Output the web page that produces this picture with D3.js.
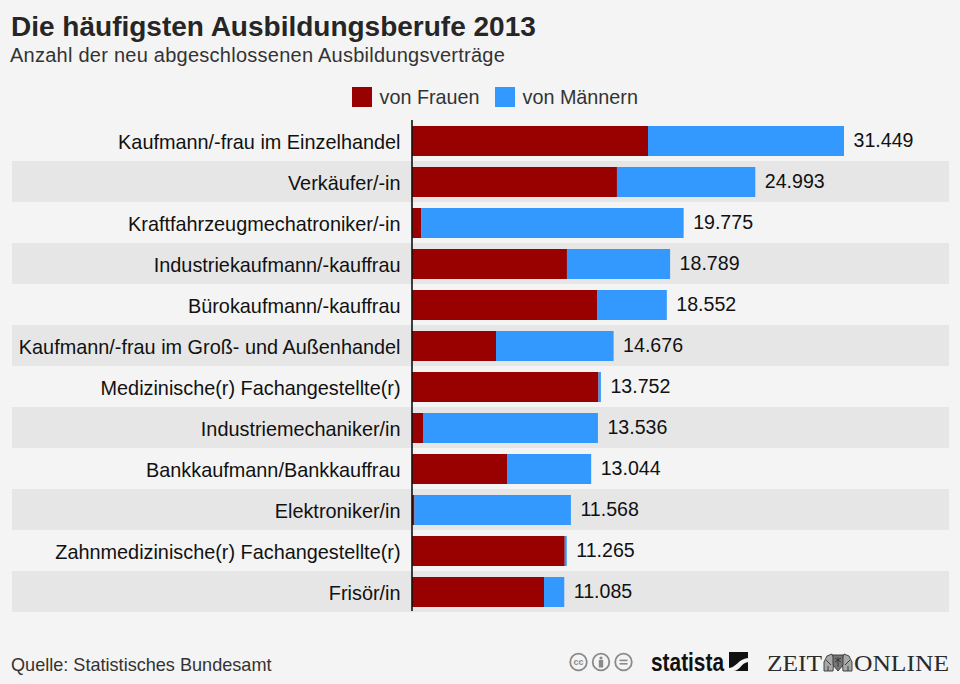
<!DOCTYPE html>
<html>
<head>
<meta charset="utf-8">
<script src="https://cdnjs.cloudflare.com/ajax/libs/d3/7.8.5/d3.min.js"></script>
<style>
  html, body { margin: 0; padding: 0; background: #f4f4f4; }
  svg { display: block; font-family: "Liberation Sans", Arial, sans-serif; }
  .domain { display: none; }
</style>
</head>
<body>
<div id="chart"></div>
<script>
// Daten
const berufe = [
  "Kaufmann/-frau im Einzelhandel", "Verkäufer/-in", "Kraftfahrzeugmechatroniker/-in",
  "Industriekaufmann/-kauffrau", "Bürokaufmann/-kauffrau", "Kaufmann/-frau im Groß- und Außenhandel",
  "Medizinische(r) Fachangestellte(r)", "Industriemechaniker/in", "Bankkaufmann/Bankkauffrau",
  "Elektroniker/in", "Zahnmedizinische(r) Fachangestellte(r)", "Frisör/in"
];
const frauen = [17180, 14920, 690, 11280, 13470, 6115, 13580, 840, 6915, 180, 11120, 9610];
const maenner = [14269, 10073, 19085, 7509, 5082, 8561, 172, 12696, 6129, 11388, 145, 1475];
const gesamt = [31449, 24993, 19775, 18789, 18552, 14676, 13752, 13536, 13044, 11568, 11265, 11085];
const serien = ["von Frauen", "von Männern"];

const width = 960, height = 684;
const farbe = d3.scaleOrdinal().domain(serien).range(["#990000", "#3399ff"]);
const deZahl = d3.formatLocale({ decimal: ",", thousands: ".", grouping: [3], currency: ["", " €"] }).format(",d");

const svg = d3.select("#chart").append("svg")
  .attr("width", width).attr("height", height)
  .attr("viewBox", [0, 0, width, height]);

const x = d3.scaleLinear().domain([0, 31449]).range([412, 844]);
const y = d3.scaleBand().domain(berufe).range([120, 612]).paddingInner(0).paddingOuter(0);
const barInset = 6;

// Titel
svg.append("text").attr("x", 11).attr("y", 36)
  .attr("font-size", 28).attr("font-weight", "700").attr("fill", "#262626")
  .text("Die häufigsten Ausbildungsberufe 2013");
svg.append("text").attr("x", 10).attr("y", 62)
  .attr("font-size", 20).attr("fill", "#333").attr("letter-spacing", 0.25)
  .text("Anzahl der neu abgeschlossenen Ausbildungsverträge");

// Legende
const legendX = [352, 495];
const legend = svg.append("g").selectAll("g").data(serien).join("g")
  .attr("transform", (d, i) => `translate(${legendX[i]},87)`);
legend.append("rect").attr("width", 20).attr("height", 20).attr("fill", d => farbe(d));
legend.append("text").attr("x", 27.5).attr("y", 17)
  .attr("font-size", 19.8).attr("fill", "#333").text(d => d);

// Zeilenstreifen
svg.append("g").selectAll("rect")
  .data(berufe.filter((d, i) => i % 2 === 1)).join("rect")
  .attr("x", 12).attr("width", 937)
  .attr("y", d => y(d)).attr("height", y.bandwidth())
  .attr("fill", "#e6e6e6");

// Balken
svg.append("g").selectAll("rect")
  .data(berufe).join("rect")
  .attr("x", x(0))
  .attr("y", d => y(d) + barInset)
  .attr("height", y.bandwidth() - barInset * 2 + 1)
  .attr("width", (d, i) => x(frauen[i]) - x(0))
  .attr("fill", farbe(serien[0]));

svg.append("g").selectAll("rect")
  .data(berufe).join("rect")
  .attr("x", (d, i) => x(frauen[i]))
  .attr("y", d => y(d) + barInset)
  .attr("height", y.bandwidth() - barInset * 2 + 1)
  .attr("width", (d, i) => x(frauen[i] + maenner[i]) - x(frauen[i]))
  .attr("fill", farbe(serien[1]));

// Summenwerte
svg.append("g").selectAll("text")
  .data(berufe).join("text")
  .attr("x", (d, i) => x(gesamt[i]) + 9.5)
  .attr("y", d => y(d) + y.bandwidth() / 2 + 6.5)
  .attr("font-size", 19.6).attr("fill", "#111")
  .text((d, i) => deZahl(gesamt[i]));

// Achse mit Berufen
const axis = svg.append("g").attr("transform", `translate(${x(0)},0)`)
  .call(d3.axisLeft(y).tickSize(0).tickPadding(11.5));
axis.selectAll("text").attr("font-size", 19.85).attr("fill", "#111")
  .attr("font-family", '"Liberation Sans", Arial, sans-serif').attr("dy", "0.42em");
svg.append("line")
  .attr("x1", x(0)).attr("x2", x(0)).attr("y1", 120).attr("y2", 611)
  .attr("stroke", "#111").attr("stroke-width", 1.6);

// Quelle
svg.append("text").attr("x", 11).attr("y", 671)
  .attr("font-size", 18.1).attr("fill", "#333")
  .text("Quelle: Statistisches Bundesamt");

// CC-Symbole
const cc = svg.append("g").selectAll("g").data(["cc", "by", "nd"]).join("g")
  .attr("transform", (d, i) => `translate(${578.5 + i * 22.5},662)`);
cc.append("circle").attr("r", 8.3).attr("fill", "none").attr("stroke", "#8a8a8a").attr("stroke-width", 1.8);
cc.filter(d => d === "cc").append("text").attr("text-anchor", "middle").attr("y", 3)
  .attr("font-size", 9).attr("font-weight", "700").attr("fill", "#8a8a8a").text("cc");
cc.filter(d => d === "by").append("circle").attr("cy", -4).attr("r", 1.6).attr("fill", "#8a8a8a");
cc.filter(d => d === "by").append("rect").attr("x", -2.2).attr("y", -2).attr("width", 4.4).attr("height", 7.5).attr("fill", "#8a8a8a");
cc.filter(d => d === "nd").selectAll("rect").data([-2.4, 1]).join("rect")
  .attr("x", -4).attr("y", d => d).attr("width", 8).attr("height", 1.6).attr("fill", "#8a8a8a");

// Logos
svg.append("text").attr("x", 651).attr("y", 671)
  .attr("font-size", 26).attr("font-weight", "700").attr("fill", "#111")
  .attr("textLength", 73).attr("lengthAdjust", "spacingAndGlyphs")
  .text("statista");
svg.append("rect").attr("x", 729).attr("y", 652).attr("width", 19).attr("height", 19).attr("fill", "#111");
svg.append("path").attr("d", "M729,668 C736,668 738,659 748,658 L748,662 C741,663 740,671 733,671 L729,671 Z")
  .attr("fill", "#f4f4f4");
svg.append("text").attr("x", 767).attr("y", 671)
  .attr("font-family", '"Liberation Serif", serif').attr("font-size", 24).attr("fill", "#2b2b2b")
  .attr("textLength", 55).attr("lengthAdjust", "spacingAndGlyphs").text("ZEIT");
svg.append("text").attr("x", 854).attr("y", 671)
  .attr("font-family", '"Liberation Serif", serif').attr("font-size", 24).attr("fill", "#2b2b2b")
  .attr("textLength", 95).attr("lengthAdjust", "spacingAndGlyphs").text("ONLINE");
// Wappen: Schild in der Mitte, links und rechts je ein Tier
const wappen = svg.append("g").attr("fill", "#a8a8a8").attr("stroke", "#333").attr("stroke-width", 0.9);
wappen.append("path").attr("d", "M824,671 L824,662 L827,656 L832,654 L834,658 L833,671 Z");
wappen.append("path").attr("d", "M852,671 L852,662 L849,656 L844,654 L842,658 L843,671 Z");
wappen.append("path").attr("d", "M833,655 L843,655 L843,665 L838,671 L833,665 Z").attr("fill", "#777");
wappen.append("path").attr("d", "M835,658 L841,662 M841,658 L835,662 M838,657 L838,667 M826,660 L831,665 M850,660 L845,665 M828,671 L828,666 M848,671 L848,666")
  .attr("fill", "none");
</script>
</body>
</html>
